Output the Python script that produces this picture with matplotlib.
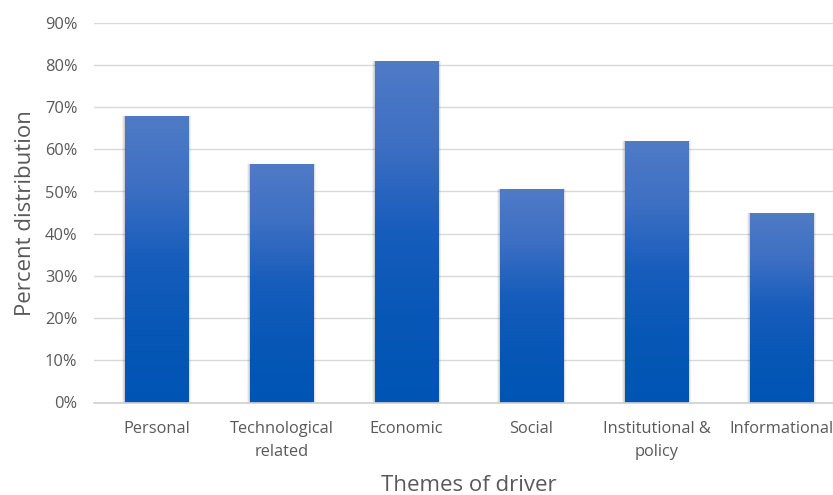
import numpy as np
import matplotlib
matplotlib.use("Agg")
import matplotlib.pyplot as plt
from matplotlib.colors import LinearSegmentedColormap
from matplotlib.ticker import PercentFormatter

categories = ["Personal", "Technological\nrelated", "Economic", "Social",
              "Institutional &\npolicy", "Informational"]
percent = [68, 56.5, 81, 50.5, 62, 44.8]
y_ticks = list(range(0, 91, 10))

plt.rcParams["font.family"] = ["Open Sans", "DejaVu Sans"]

W, H = 833, 495
fig = plt.figure(figsize=(W / 100, H / 100), dpi=100)
# plot area runs slightly past the right edge of the canvas
ax = fig.add_axes([94 / W, (H - 402.5) / H, 750 / W, (402.5 - 22.7) / H])

x = np.arange(len(categories))
bar_w = 0.505

# soft shadow around each bar
for grow, a in [(0.05, 0.05), (0.035, 0.07), (0.02, 0.09)]:
    ax.bar(x, percent, width=bar_w + grow, color="#000000", alpha=a,
           linewidth=0, zorder=2)

bars = ax.bar(x, percent, width=bar_w, color="#1a5fbd", linewidth=0, zorder=3)

cmap = LinearSegmentedColormap.from_list(
    "blue_fade", ["#0055b4", "#0757b6", "#175dbc", "#3d6fc3", "#507bc6"])
grad = np.linspace(0, 1, 256).reshape(-1, 1)
for b in bars:
    x0, w, h = b.get_x(), b.get_width(), b.get_height()
    im = ax.imshow(grad, cmap=cmap, origin="lower", aspect="auto",
                   extent=(x0, x0 + w, 0, h), zorder=4, interpolation="bilinear")
    im.set_clip_path(b)

ax.set_xlim(-0.5, len(categories) - 0.5)
ax.set_ylim(0, 90)
ax.set_yticks(y_ticks)
ax.yaxis.set_major_formatter(PercentFormatter(decimals=0))
ax.set_xticks(x)
ax.set_xticklabels(categories)

ax.grid(axis="y", color="#d9d9d9", linewidth=1.0, zorder=0)
ax.set_axisbelow(True)
for s in ["top", "right", "left"]:
    ax.spines[s].set_visible(False)
ax.spines["bottom"].set_color("#d0d0d0")
ax.spines["bottom"].set_linewidth(1.2)
ax.spines["bottom"].set_zorder(5)

ax.tick_params(axis="both", length=0, colors="#595959", labelsize=11.8)
ax.tick_params(axis="x", pad=13)
ax.tick_params(axis="y", pad=12)
for t in ax.get_xticklabels():
    t.set_linespacing(1.6)

ax.set_ylabel("Percent distribution", fontsize=16, color="#595959", labelpad=6)
ax.set_xlabel("Themes of driver", fontsize=16, color="#595959", labelpad=11)

fig.savefig("out.png", dpi=100)
